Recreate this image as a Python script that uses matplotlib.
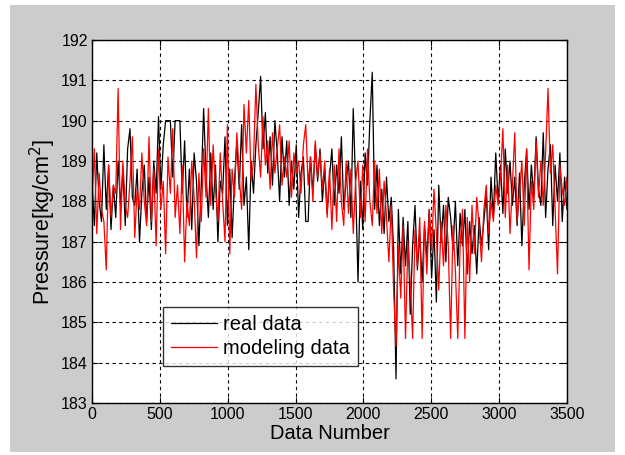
import numpy as np
import matplotlib
matplotlib.use("Agg")
import matplotlib.pyplot as plt
from matplotlib.patches import Rectangle

plt.rcParams['font.family'] = ['Liberation Sans', 'DejaVu Sans']

real_data = [
    188.5, 187.4, 189.2, 188.0, 187.5, 189.4, 187.8, 188.9, 187.3, 188.4,
    187.6, 189.0, 187.9, 188.8, 187.4, 189.3, 189.8, 188.1, 187.9, 188.8,
    187.0, 188.2, 188.9, 187.5, 188.6, 187.3, 189.0, 188.2, 190.1, 188.3,
    189.4, 190.0, 190.0, 190.0, 188.6, 190.0, 190.0, 190.0, 188.2, 189.5,
    187.6, 188.8, 187.3, 189.2, 188.5, 186.9, 188.4, 190.3, 188.7, 187.6,
    189.2, 187.8, 188.9, 187.0, 188.5, 188.2, 189.6, 187.4, 188.8, 187.1,
    188.5, 189.5, 188.3, 189.9, 187.9, 188.6, 186.8, 189.0, 188.2, 189.4,
    190.2, 191.1, 189.3, 190.2, 188.7, 189.6, 188.4, 190.0, 189.2, 188.0,
    189.6, 188.6, 189.5, 187.9, 189.0, 188.3, 189.4, 187.6, 188.7, 189.1,
    187.5, 187.5, 189.1, 188.2, 189.4, 188.5, 189.3, 188.0, 188.8, 187.7,
    188.6, 189.3, 187.9, 188.9, 188.2, 189.6, 187.8, 188.5, 189.0, 187.6,
    190.3, 188.4, 186.0, 188.5, 187.3, 189.2, 188.4, 190.0, 191.2, 187.8,
    188.9, 187.4, 188.3, 187.2, 188.6, 187.5, 188.1, 186.8, 183.6, 187.8,
    186.2, 187.6, 186.4, 187.5, 185.2, 186.9, 187.9, 186.3, 187.2, 186.0,
    187.4, 186.6, 187.8, 186.1, 187.3, 185.5, 188.4, 187.0, 187.9, 186.5,
    188.1, 187.6, 186.8, 188.0, 186.4, 187.7, 186.9, 187.8, 186.2, 187.5,
    186.7, 187.4, 186.2, 187.6, 186.9, 187.5, 188.2, 186.8, 188.6, 187.6,
    189.2, 188.0, 188.9, 187.7, 189.3, 188.2, 189.0, 187.9, 188.6, 187.4,
    188.7, 186.9, 188.4, 189.3, 187.8, 188.9, 188.1, 189.6, 188.3, 187.9,
    189.7, 187.6, 188.8, 189.4, 187.4, 188.9, 188.0, 189.2, 187.5, 188.6,
    187.8,
]

modeling_data = [
    188.0, 189.3, 187.2, 188.7, 187.8, 187.5, 186.3, 188.9, 187.6, 188.4,
    188.2, 190.8, 187.3, 189.0, 187.9, 187.6, 188.5, 189.6, 187.1, 188.3,
    187.8, 189.2, 188.0, 187.4, 189.6, 187.5, 188.8, 186.9, 189.3, 187.8,
    188.5, 186.7, 189.1, 188.2, 189.8, 187.6, 188.4, 187.2, 188.9, 186.5,
    188.0, 187.4, 189.0, 188.1, 186.6, 188.7, 187.5, 189.3, 188.1, 190.3,
    187.9, 189.4, 188.3, 187.5, 189.2, 188.0, 187.0, 189.9, 186.7, 188.8,
    188.1, 189.7, 188.6, 187.8, 190.4, 189.2, 190.5, 188.5, 189.0, 190.9,
    189.4, 188.6, 190.1, 188.9, 189.5, 188.3, 189.7, 188.7, 189.3, 189.9,
    188.4, 189.1, 188.6, 189.5, 188.1, 189.2, 188.7, 189.0, 188.2, 189.4,
    189.9, 188.4, 189.1, 188.0, 189.5, 188.6, 189.2, 188.3, 189.0, 187.6,
    188.8, 187.3, 188.9, 187.5, 189.3, 188.0, 187.4, 189.0, 187.7, 188.8,
    187.2, 188.5, 189.0, 187.6, 188.9, 187.5, 189.3, 188.0, 187.4, 189.0,
    187.7, 188.8, 187.2, 188.5, 187.6, 186.5, 187.9, 185.8, 184.4, 186.9,
    185.6, 187.4, 184.6, 187.0, 186.0, 184.6, 187.3, 186.4, 187.6, 184.6,
    187.5, 186.2, 187.8, 186.8, 188.3, 187.2, 185.8, 187.5, 186.4, 187.9,
    186.9, 184.6, 187.4, 186.3, 184.6, 186.9, 187.8, 184.6, 187.6, 186.0,
    187.9, 186.7, 188.1, 187.4, 186.5, 187.8, 188.4, 187.2, 188.0, 187.5,
    188.4, 187.9, 188.6, 189.8, 187.6, 188.9, 187.2, 188.4, 189.7, 187.5,
    188.2, 189.0, 187.4, 189.3, 186.3, 188.5, 187.8, 189.5, 188.1, 189.0,
    187.9, 189.2, 190.8, 188.7, 189.4, 187.8, 186.2, 188.9, 188.3, 187.9,
    188.6,
]

x_ticks = [0, 500, 1000, 1500, 2000, 2500, 3000, 3500]
y_ticks = [183, 184, 185, 186, 187, 188, 189, 190, 191, 192]

x_real = np.linspace(0, 3500, len(real_data))
x_model = np.linspace(0, 3500, len(modeling_data))

fig = plt.figure(figsize=(6.25, 4.55), dpi=100, facecolor='white')
fig.patches.append(Rectangle((10/625, 1 - 452/455), 605/625, 447/455,
                             transform=fig.transFigure, facecolor='#cccccc',
                             edgecolor='none', zorder=-10))
ax = fig.add_axes([92/625, 1 - 403/455, 475/625, 363/455])
ax.set_facecolor('white')

ax.plot(x_real, real_data, color='black', lw=0.9, label='real data')
ax.plot(x_model, modeling_data, color='#ff0000', lw=0.9, label='modeling data')

ax.set_xlim(0, 3500)
ax.set_ylim(183, 192)
ax.set_xticks(x_ticks)
ax.set_yticks(y_ticks)
ax.tick_params(direction='in', length=4, labelsize=11.5, width=0.8,
               top=True, right=True, pad=3)
ax.grid(True, color='black', linestyle=(0, (3, 3)), linewidth=0.8)
for s in ax.spines.values():
    s.set_color('black')
    s.set_linewidth(1.0)

ax.set_xlabel('Data Number', fontsize=14.5, labelpad=1)
ax.set_ylabel('Pressure[kg/cm$^2$]', fontsize=15.5, labelpad=2)

leg = ax.legend(loc='lower left', bbox_to_anchor=((163 - 92) / 475, (403 - 366) / 363),
                fontsize=14.5, frameon=True, fancybox=False, borderaxespad=0,
                handlelength=2.3, handletextpad=0.3, borderpad=0.4,
                labelspacing=0.25)
leg.get_frame().set_edgecolor('black')
leg.get_frame().set_linewidth(1.0)

fig.savefig('out.png', dpi=100, facecolor=fig.get_facecolor())
